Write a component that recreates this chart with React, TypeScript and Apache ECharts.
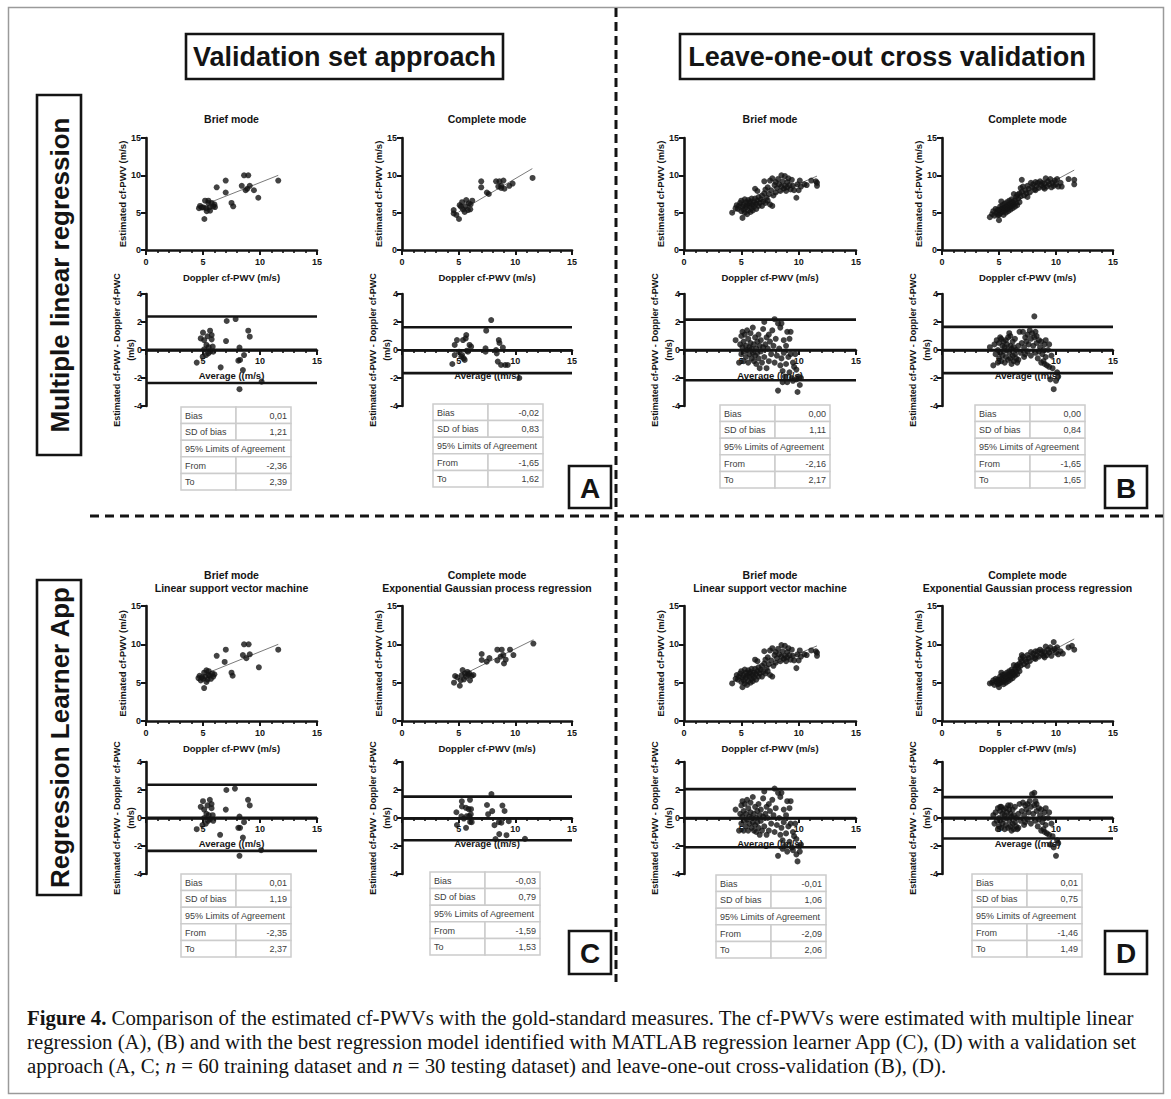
import React, { useEffect, useRef } from 'react';
import * as echarts from 'echarts';

const W = 1171;
const H = 1099;
const FONT = "'Liberation Sans', Arial, Helvetica, sans-serif";
const SERIF = "'Liberation Serif', 'Times New Roman', serif";
const INK = '#141414';

// ---------- tick labels / titles ----------
const scatterTicks = [0, 5, 10, 15];
const baTicks = [-4, -2, 0, 2, 4];
const tableLabels = ['Bias', 'SD of bias', '95% Limits of Agreement', 'From', 'To'];

// ---------- A : multiple linear regression, validation set ----------
const scAL = [[5.12,4.15],[4.65,5.6],[4.74,5.9],[5.18,6.6],[5.27,5.6],[5.47,6.6],[5.56,5.7],[5.62,5.27],[5.76,6.3],[5.9,5.85],[6.0,6.1],[6.05,5.75],[5.03,5.7],[6.2,8.4],[6.99,9.3],[6.99,7.7],[7.5,6.3],[7.65,5.85],[8.4,8.6],[8.6,10.0],[8.97,10.0],[8.74,8.0],[8.88,8.2],[9.1,8.6],[9.47,8.0],[9.85,7.0],[11.6,9.3],[5.33,5.2],[4.89,5.7],[5.47,6.3]];
const regAL = [[5.5,6.3],[11.6,10.0]];
const baAL = [[4.45,-0.9],[4.8,0.83],[5.0,1.24],[5.1,0.7],[5.3,0.36],[5.1,0.05],[5.26,-0.36],[5.47,-0.24],[5.62,1.38],[5.76,1.07],[5.76,0.76],[5.62,-0.12],[5.85,0.24],[5.9,-0.12],[6.55,-1.24],[7.02,0.64],[7.08,2.07],[7.86,2.21],[8.1,-0.76],[8.2,0.17],[8.25,-0.71],[8.2,-2.8],[8.5,-1.43],[8.6,-0.36],[8.97,1.38],[9.1,0.95],[10.14,-2.26],[4.97,-0.48],[5.4,0.98],[5.5,0.2]];
const stAL = ['0,01', '1,21', '-2,36', '2,39'];

const scAR = [[4.56,5.35],[4.56,4.9],[4.8,4.7],[5.03,4.15],[5.09,6.0],[5.3,6.4],[5.38,5.45],[5.53,5.1],[5.6,5.85],[5.82,5.35],[5.9,6.25],[6.02,5.45],[6.05,6.1],[6.2,6.6],[5.67,6.7],[6.99,9.2],[6.99,8.4],[7.49,7.7],[7.66,7.5],[8.3,9.2],[8.6,9.2],[8.5,8.5],[8.75,8.6],[8.95,9.3],[9.04,8.2],[8.75,8.3],[9.47,8.6],[9.76,8.9],[11.52,9.65],[5.2,5.8]];
const regAR = [[5.0,5.1],[11.5,10.9]];
const baAR = [[4.44,-1.0],[4.65,0.36],[4.65,-0.36],[4.85,0.71],[5.03,-0.12],[5.23,-0.48],[5.38,0.71],[5.44,-0.6],[5.53,-0.71],[5.62,0.83],[5.67,1.07],[5.73,-0.05],[5.82,-0.12],[5.96,0.36],[6.1,0.24],[7.37,0.12],[7.37,-0.12],[7.43,1.38],[7.87,2.14],[8.3,0.0],[8.36,-0.24],[8.54,0.71],[8.6,0.5],[8.45,-0.83],[8.74,-1.07],[8.9,0.17],[9.1,-1.07],[9.33,-1.07],[10.35,-2.0],[5.3,-0.36]];
const stAR = ['-0,02', '0,83', '-1,65', '1,62'];

// ---------- B : multiple linear regression, LOOCV ----------
const scBL = [[4.2,5.0],[4.5,5.6],[4.6,6.0],[4.7,5.5],[4.8,5.9],[4.9,6.3],[5.0,5.2],[5.0,6.6],[5.1,4.3],[5.1,5.8],[5.2,6.1],[5.2,5.4],[5.3,6.8],[5.3,5.0],[5.4,5.7],[5.4,6.4],[5.5,4.8],[5.5,6.0],[5.6,5.3],[5.6,6.7],[5.7,5.9],[5.7,6.3],[5.8,5.1],[5.8,6.5],[5.9,5.6],[5.9,6.9],[6.0,6.1],[6.0,5.3],[6.1,6.4],[6.1,5.8],[6.2,6.9],[6.2,8.2],[6.3,5.5],[6.3,6.2],[6.4,7.9],[6.4,6.6],[6.5,5.9],[6.5,7.1],[6.6,6.3],[6.7,6.8],[6.8,5.9],[6.8,7.3],[6.9,6.5],[7.0,9.2],[7.0,7.6],[7.1,6.3],[7.1,8.1],[7.2,7.0],[7.3,8.4],[7.3,6.6],[7.4,7.5],[7.5,9.3],[7.5,6.1],[7.6,8.0],[7.7,9.6],[7.7,5.9],[7.8,7.3],[7.9,8.7],[8.0,9.1],[8.0,7.7],[8.1,8.3],[8.2,9.5],[8.3,8.8],[8.4,7.9],[8.5,10.0],[8.5,8.5],[8.6,9.2],[8.7,8.2],[8.8,9.9],[8.8,8.6],[8.9,7.9],[9.0,9.1],[9.0,8.4],[9.1,9.6],[9.2,8.7],[9.3,8.1],[9.4,9.4],[9.5,8.6],[9.6,8.0],[9.8,7.0],[9.9,8.8],[10.0,8.0],[10.1,9.3],[10.2,8.5],[10.5,8.8],[10.7,8.7],[11.1,9.3],[11.5,9.2],[11.6,8.6],[11.6,9.0]];
const regBL = [[4.2,5.0],[11.6,9.9]];
const baBL = [[4.5,0.7],[4.8,-0.9],[4.9,0.4],[5.0,1.0],[5.0,-0.3],[5.1,0.2],[5.1,1.3],[5.2,-0.8],[5.2,0.6],[5.3,-0.1],[5.3,1.1],[5.4,0.3],[5.4,-0.5],[5.5,1.4],[5.5,0.0],[5.6,-0.9],[5.6,0.8],[5.7,0.2],[5.7,-0.3],[5.8,1.2],[5.8,0.5],[5.9,-0.6],[5.9,0.1],[6.0,1.6],[6.0,-0.2],[6.1,0.4],[6.1,-0.8],[6.2,0.9],[6.2,-0.4],[6.3,0.1],[6.3,-1.0],[6.4,0.6],[6.4,-0.2],[6.5,1.1],[6.5,-0.6],[6.6,0.3],[6.6,-1.3],[6.7,-0.1],[6.7,0.7],[6.8,-0.9],[6.9,0.2],[6.9,1.5],[7.0,-0.5],[7.0,2.0],[7.1,0.4],[7.2,-1.3],[7.2,0.9],[7.3,0.1],[7.4,1.1],[7.4,-0.8],[7.5,0.6],[7.6,-0.3],[7.7,1.4],[7.8,0.3],[7.9,2.2],[7.9,-0.9],[8.0,0.8],[8.1,-0.4],[8.2,-2.9],[8.2,1.9],[8.3,0.1],[8.4,-1.1],[8.4,1.6],[8.5,-0.6],[8.5,1.9],[8.6,-1.5],[8.7,0.7],[8.7,-0.2],[8.8,-1.9],[8.9,-1.0],[8.9,0.3],[9.0,1.3],[9.0,-2.3],[9.1,-0.5],[9.2,0.8],[9.2,-1.6],[9.3,1.3],[9.3,-0.3],[9.4,-2.0],[9.5,-0.9],[9.6,-1.2],[9.7,-0.3],[9.8,-2.1],[9.9,-3.0],[10.0,-1.9],[10.1,-2.5],[10.2,-2.0],[9.5,-2.2],[8.6,-2.3],[9.8,-1.4]];
const stBL = ['0,00', '1,11', '-2,16', '2,17'];

const scBR = [[4.2,4.4],[4.4,4.8],[4.5,5.2],[4.6,4.6],[4.7,5.5],[4.8,5.0],[4.9,4.7],[5.0,5.3],[5.0,4.0],[5.1,5.8],[5.1,4.9],[5.2,5.5],[5.2,6.5],[5.3,5.1],[5.3,6.0],[5.4,4.7],[5.4,5.6],[5.5,5.3],[5.5,6.2],[5.6,5.0],[5.6,5.8],[5.7,5.5],[5.7,6.4],[5.8,5.2],[5.8,6.0],[5.9,5.7],[5.9,6.6],[6.0,5.4],[6.0,6.2],[6.1,5.9],[6.1,6.8],[6.2,5.6],[6.2,6.4],[6.3,7.5],[6.3,6.1],[6.4,6.7],[6.4,5.8],[6.5,6.3],[6.5,7.1],[6.6,6.0],[6.7,6.9],[6.8,7.6],[6.8,6.4],[6.9,8.3],[6.9,7.2],[7.0,9.4],[7.0,7.8],[7.1,8.5],[7.2,7.3],[7.3,8.0],[7.4,7.6],[7.5,8.6],[7.6,8.2],[7.7,7.7],[7.8,9.0],[7.9,8.4],[8.0,8.8],[8.1,8.1],[8.2,9.1],[8.3,8.6],[8.4,9.0],[8.5,8.3],[8.6,9.2],[8.7,8.7],[8.8,9.0],[8.9,8.4],[9.0,8.9],[9.1,9.6],[9.2,8.5],[9.3,9.2],[9.4,8.8],[9.5,9.5],[9.6,8.4],[9.7,9.0],[9.8,8.6],[9.9,9.3],[10.0,8.8],[10.1,9.5],[10.2,8.5],[10.4,9.0],[10.5,8.5],[11.1,9.5],[11.6,9.4],[11.6,8.8],[7.5,7.1],[6.6,7.4],[8.2,8.0],[9.0,8.2],[5.0,4.7],[4.9,5.4]];
const regBR = [[4.2,4.6],[11.6,10.7]];
const baBR = [[4.2,0.2],[4.5,-1.1],[4.6,0.4],[4.7,-0.3],[4.8,0.7],[4.9,0.0],[5.0,-0.6],[5.0,0.5],[5.1,-0.2],[5.2,0.8],[5.2,-0.8],[5.3,0.3],[5.3,-0.4],[5.4,0.6],[5.4,-0.1],[5.5,-0.9],[5.5,0.2],[5.6,0.7],[5.6,-0.5],[5.7,0.0],[5.7,0.4],[5.8,-0.7],[5.8,0.9],[5.9,-0.2],[5.9,1.2],[6.0,0.3],[6.0,-0.6],[6.1,-1.0],[6.1,0.1],[6.2,0.6],[6.2,-0.4],[6.3,-0.8],[6.3,0.2],[6.4,-0.3],[6.4,0.8],[6.5,-0.6],[6.5,0.0],[6.6,-0.9],[6.7,0.3],[6.8,1.3],[6.9,-0.2],[7.0,0.5],[7.1,1.3],[7.2,0.2],[7.3,0.9],[7.3,-0.3],[7.4,0.6],[7.5,1.1],[7.5,-0.1],[7.6,0.4],[7.7,1.4],[7.8,0.8],[7.8,-0.4],[7.9,1.2],[8.0,0.3],[8.1,2.4],[8.1,0.9],[8.2,-0.2],[8.3,1.0],[8.3,0.5],[8.4,-0.6],[8.5,0.7],[8.5,-0.1],[8.6,0.2],[8.7,-0.9],[8.7,0.6],[8.8,-0.3],[8.9,0.0],[9.0,-1.0],[9.0,0.4],[9.1,-0.5],[9.2,-1.1],[9.3,0.0],[9.4,-1.2],[9.5,-2.1],[9.6,-0.4],[9.7,-1.3],[9.8,-2.8],[10.0,-2.2],[10.1,-1.6],[9.4,0.4],[8.9,-0.8],[7.2,-0.5],[6.7,-0.7],[6.0,1.0],[5.1,0.9],[4.9,-0.9],[8.2,1.3],[9.1,0.7],[10.2,-1.9]];
const stBR = ['0,00', '0,84', '-1,65', '1,65'];

// ---------- C : regression learner, validation set ----------
const scCL = [[5.1,4.3],[4.6,5.6],[4.7,5.9],[4.9,5.7],[5.0,5.5],[5.1,6.3],[5.2,5.8],[5.3,6.6],[5.4,5.4],[5.5,6.0],[5.5,6.5],[5.6,5.9],[5.7,5.5],[5.8,6.2],[5.9,5.8],[6.0,6.1],[4.8,5.3],[5.3,5.1],[6.2,8.5],[7.0,9.3],[6.9,7.7],[7.5,6.3],[7.6,5.9],[8.5,8.6],[8.6,10.0],[9.0,10.0],[8.8,8.2],[9.1,8.7],[9.9,7.0],[11.6,9.3]];
const regCL = [[5.3,6.2],[11.6,10.0]];
const baCL = [[4.45,-0.8],[4.8,0.8],[5.0,1.2],[5.1,0.6],[5.3,0.3],[5.1,0.0],[5.25,-0.4],[5.45,-0.2],[5.6,1.3],[5.75,1.0],[5.75,0.7],[5.6,-0.1],[5.85,0.2],[5.9,-0.2],[6.5,-1.2],[7.0,0.6],[7.05,2.0],[7.8,2.1],[8.1,-0.7],[8.2,0.1],[8.25,-0.7],[8.2,-2.7],[8.5,-1.4],[8.6,-0.3],[8.95,1.3],[9.1,0.9],[10.1,-2.3],[4.95,-0.5],[5.4,0.9],[5.5,0.2]];
const stCL = ['0,01', '1,19', '-2,35', '2,37'];

const scCR = [[4.59,5.0],[4.68,5.87],[4.88,5.7],[5.1,4.6],[5.18,5.3],[5.27,6.0],[5.35,6.65],[5.47,5.43],[5.56,6.2],[5.65,5.78],[5.77,6.4],[5.86,6.0],[6.0,5.3],[5.94,6.2],[6.15,5.87],[6.3,6.0],[7.03,8.74],[7.03,7.96],[7.47,7.74],[7.71,8.2],[8.41,9.3],[8.8,9.3],[8.41,7.9],[8.7,8.4],[8.94,8.6],[9.0,7.5],[9.15,8.0],[9.53,9.3],[9.83,8.6],[11.59,10.1]];
const regCR = [[5.6,6.2],[11.6,10.6]];
const baCR = [[4.8,0.41],[5.28,1.19],[5.29,0.82],[4.85,-0.5],[5.24,0.12],[5.64,0.73],[6.0,1.3],[5.45,-0.04],[5.88,0.64],[5.72,0.13],[6.09,0.63],[5.93,0.14],[5.65,-0.7],[6.07,0.26],[6.01,-0.28],[6.15,-0.3],[7.89,1.71],[7.5,0.93],[7.6,0.27],[7.96,0.49],[8.86,0.89],[9.05,0.5],[8.16,-0.51],[8.55,-0.3],[8.77,-0.34],[8.25,-1.5],[8.58,-1.15],[9.42,-0.23],[9.22,-1.23],[10.85,-1.49]];
const stCR = ['-0,03', '0,79', '-1,59', '1,53'];

// ---------- D : regression learner, LOOCV ----------
const scDL = [[4.2,4.9],[4.5,5.5],[4.6,6.0],[4.7,5.4],[4.8,5.8],[4.9,6.2],[5.0,5.1],[5.0,6.5],[5.1,4.4],[5.1,5.7],[5.2,6.0],[5.2,5.3],[5.3,6.7],[5.3,4.9],[5.4,5.6],[5.4,6.3],[5.5,4.7],[5.5,5.9],[5.6,5.2],[5.6,6.6],[5.7,5.8],[5.7,6.2],[5.8,5.0],[5.8,6.4],[5.9,5.5],[5.9,6.8],[6.0,6.0],[6.0,5.2],[6.1,6.3],[6.1,5.7],[6.2,6.8],[6.2,8.0],[6.3,5.4],[6.3,6.1],[6.4,7.8],[6.4,6.5],[6.5,5.8],[6.5,7.0],[6.6,6.2],[6.7,6.7],[6.8,5.8],[6.8,7.2],[6.9,6.4],[7.0,9.1],[7.0,7.5],[7.1,6.2],[7.1,8.0],[7.2,6.9],[7.3,8.3],[7.3,6.5],[7.4,7.4],[7.5,9.2],[7.5,6.0],[7.6,7.9],[7.7,9.5],[7.7,5.8],[7.8,7.2],[7.9,8.6],[8.0,9.0],[8.0,7.6],[8.1,8.2],[8.2,9.4],[8.3,8.7],[8.4,7.8],[8.5,9.9],[8.5,8.4],[8.6,9.1],[8.7,8.1],[8.8,9.8],[8.8,8.5],[8.9,7.8],[9.0,9.0],[9.0,8.3],[9.1,9.5],[9.2,8.6],[9.3,8.0],[9.4,9.3],[9.5,8.5],[9.6,7.9],[9.8,6.9],[9.9,8.7],[10.0,7.9],[10.1,9.2],[10.2,8.4],[10.5,8.7],[10.7,8.6],[11.1,9.2],[11.5,9.1],[11.6,8.5],[11.6,8.9]];
const regDL = [[4.2,5.1],[11.6,9.8]];
const baDL = [[4.5,0.6],[4.8,-0.9],[4.9,0.3],[5.0,0.9],[5.0,-0.4],[5.1,0.1],[5.1,1.2],[5.2,-0.9],[5.2,0.5],[5.3,-0.2],[5.3,1.0],[5.4,0.3],[5.4,-0.6],[5.5,1.3],[5.5,-0.1],[5.6,-0.9],[5.6,0.7],[5.7,0.1],[5.7,-0.4],[5.8,1.1],[5.8,0.4],[5.9,-0.7],[5.9,0.0],[6.0,1.5],[6.0,-0.3],[6.1,0.3],[6.1,-0.9],[6.2,0.8],[6.2,-0.5],[6.3,0.0],[6.3,-1.0],[6.4,0.5],[6.4,-0.3],[6.5,1.0],[6.5,-0.7],[6.6,0.2],[6.6,-1.2],[6.7,-0.2],[6.7,0.6],[6.8,-0.9],[6.9,0.1],[6.9,1.4],[7.0,-0.6],[7.0,1.9],[7.1,0.3],[7.2,-1.2],[7.2,0.8],[7.3,0.0],[7.4,1.0],[7.4,-0.9],[7.5,0.5],[7.6,-0.4],[7.7,1.3],[7.8,0.2],[7.9,2.1],[7.9,-1.0],[8.0,0.7],[8.1,-0.5],[8.2,-2.7],[8.2,1.8],[8.3,0.0],[8.4,-1.2],[8.4,1.5],[8.5,-0.7],[8.5,1.8],[8.6,-1.6],[8.7,0.6],[8.7,-0.3],[8.8,-2.0],[8.9,-1.1],[8.9,0.2],[9.0,1.2],[9.0,-2.4],[9.1,-0.6],[9.2,0.7],[9.2,-1.7],[9.3,1.2],[9.3,-0.4],[9.4,-2.1],[9.5,-1.0],[9.6,-1.3],[9.7,-0.4],[9.8,-2.6],[9.9,-3.1],[10.0,-2.0],[10.1,-2.4],[10.2,-1.9],[9.5,-2.3],[8.6,-2.2],[9.8,-1.5]];
const stDL = ['-0,01', '1,06', '-2,09', '2,06'];

const scDR = [[4.2,4.9],[4.4,5.0],[4.5,5.3],[4.6,4.7],[4.7,5.5],[4.8,5.1],[4.9,4.8],[5.0,5.3],[5.0,4.4],[5.1,5.8],[5.1,5.0],[5.2,5.5],[5.2,6.3],[5.3,5.1],[5.3,6.0],[5.4,4.8],[5.4,5.6],[5.5,5.3],[5.5,6.1],[5.6,5.0],[5.6,5.8],[5.7,5.5],[5.7,6.3],[5.8,5.2],[5.8,6.0],[5.9,5.7],[5.9,6.5],[6.0,5.4],[6.0,6.2],[6.1,5.9],[6.1,6.7],[6.2,5.6],[6.2,6.4],[6.3,7.3],[6.3,6.1],[6.4,6.7],[6.4,5.9],[6.5,6.4],[6.5,7.1],[6.6,6.1],[6.7,6.9],[6.8,7.5],[6.8,6.5],[6.9,8.1],[6.9,7.2],[7.0,8.6],[7.0,7.8],[7.1,8.4],[7.2,7.4],[7.3,8.0],[7.4,7.7],[7.5,8.6],[7.6,8.2],[7.7,7.8],[7.8,9.0],[7.9,8.4],[8.0,8.8],[8.1,8.2],[8.2,9.1],[8.3,8.6],[8.4,9.1],[8.5,8.4],[8.6,9.3],[8.7,8.8],[8.8,9.1],[8.9,8.5],[9.0,9.0],[9.1,9.7],[9.2,8.6],[9.3,9.3],[9.4,8.9],[9.5,9.6],[9.6,8.5],[9.7,9.2],[9.8,10.3],[9.9,9.4],[10.0,8.9],[10.1,9.6],[10.2,8.7],[10.4,9.1],[10.6,8.8],[11.1,9.6],[11.4,9.8],[11.6,9.3],[7.5,7.2],[6.6,7.3],[8.2,8.1],[9.0,8.3],[5.0,4.9],[4.9,5.4]];
const regDR = [[4.2,4.8],[11.6,10.7]];
const baDR = [[4.5,0.2],[4.6,-0.4],[4.7,0.4],[4.8,-0.2],[4.9,0.7],[5.0,0.0],[5.0,-0.6],[5.1,0.5],[5.1,-0.2],[5.2,0.8],[5.2,-0.7],[5.3,0.3],[5.3,-0.4],[5.4,0.6],[5.4,-0.1],[5.5,-0.8],[5.5,0.2],[5.6,0.7],[5.6,-0.5],[5.7,0.0],[5.7,0.4],[5.8,-0.7],[5.8,0.9],[5.9,-0.2],[5.9,0.6],[6.0,0.3],[6.0,-0.6],[6.1,-0.9],[6.1,0.1],[6.2,0.6],[6.2,-0.4],[6.3,-0.8],[6.3,0.2],[6.4,-0.3],[6.4,0.8],[6.5,-0.6],[6.5,0.0],[6.6,-0.8],[6.7,0.3],[6.8,1.0],[6.9,-0.2],[7.0,0.5],[7.1,1.1],[7.2,0.2],[7.3,0.9],[7.3,-0.3],[7.4,0.6],[7.5,1.0],[7.5,-0.1],[7.6,0.4],[7.7,1.2],[7.8,0.8],[7.8,-0.4],[7.9,1.7],[8.0,0.3],[8.1,1.8],[8.1,0.9],[8.2,-0.2],[8.3,1.0],[8.3,0.5],[8.4,-0.6],[8.5,0.7],[8.5,-0.1],[8.6,0.2],[8.7,-0.9],[8.7,0.6],[8.8,-0.3],[8.9,0.0],[9.0,-1.0],[9.0,0.4],[9.1,-0.5],[9.2,-1.1],[9.3,0.0],[9.4,-1.2],[9.5,-1.9],[9.6,-0.4],[9.7,-1.3],[9.8,-2.1],[10.0,-2.7],[10.1,-1.6],[9.4,0.4],[8.9,-0.8],[7.2,-0.5],[6.7,-0.7],[6.0,0.9],[5.1,0.8],[4.9,-0.8],[8.2,1.2],[9.1,0.7],[10.2,-1.8]];
const stDR = ['0,01', '0,75', '-1,46', '1,49'];

// ---------- layout ----------
const ROWS = [
  { scTop: 138, scH: 112, baTop: 294, baH: 112, titleY: [119] },
  { scTop: 606, scH: 115, baTop: 762, baH: 112, titleY: [575, 588] },
];
const PANELS = [
  { gx: 146, gw: 171, row: 0, title: ['Brief mode'], sc: scAL, reg: regAL, ba: baAL, st: stAL, tb: [181, 407] },
  { gx: 402, gw: 170, row: 0, title: ['Complete mode'], sc: scAR, reg: regAR, ba: baAR, st: stAR, tb: [433, 404] },
  { gx: 684, gw: 172, row: 0, title: ['Brief mode'], sc: scBL, reg: regBL, ba: baBL, st: stBL, tb: [720, 405] },
  { gx: 942, gw: 171, row: 0, title: ['Complete mode'], sc: scBR, reg: regBR, ba: baBR, st: stBR, tb: [975, 405] },
  { gx: 146, gw: 171, row: 1, title: ['Brief mode', 'Linear support vector machine'], sc: scCL, reg: regCL, ba: baCL, st: stCL, tb: [181, 874] },
  { gx: 402, gw: 170, row: 1, title: ['Complete mode', 'Exponential Gaussian process regression'], sc: scCR, reg: regCR, ba: baCR, st: stCR, tb: [430, 872] },
  { gx: 684, gw: 172, row: 1, title: ['Brief mode', 'Linear support vector machine'], sc: scDL, reg: regDL, ba: baDL, st: stDL, tb: [716, 875] },
  { gx: 942, gw: 171, row: 1, title: ['Complete mode', 'Exponential Gaussian process regression'], sc: scDR, reg: regDR, ba: baDR, st: stDR, tb: [972, 874] },
];

const num = (s: string) => parseFloat(s.replace(',', '.'));

function txt(x: number, y: number, text: string, font: string, align = 'left', vAlign = 'middle', fill = INK, extra: any = {}) {
  return {
    type: 'text', x, y, silent: true, ...extra,
    style: { text, font, fill, align, verticalAlign: vAlign, textAlign: align, textVerticalAlign: vAlign },
  };
}

function axisBits() {
  return {
    axisLine: { show: true, onZero: false, lineStyle: { color: INK, width: 2.6 } },
    axisTick: { show: true, length: 5, lineStyle: { color: INK, width: 2 } },
    axisLabel: { color: INK, fontSize: 9, fontWeight: 'bold', fontFamily: FONT },
    splitLine: { show: false },
    nameTextStyle: { color: INK, fontSize: 9.5, fontWeight: 'bold', fontFamily: FONT },
  };
}

function buildTable(x: number, y: number, st: string[]) {
  const w = 110, cw = 55, rh = 16.6;
  const border = '#cccccc';
  const tcol = '#3c3c3c';
  const els: any[] = [];
  const vals = [st[0], st[1], '', st[2], st[3]];
  tableLabels.forEach((lab, r) => {
    const ry = y + r * rh;
    if (r === 2) {
      els.push({ type: 'rect', silent: true, shape: { x, y: ry, width: w, height: rh }, style: { fill: '#fff', stroke: border, lineWidth: 1.5 } });
    } else {
      els.push({ type: 'rect', silent: true, shape: { x, y: ry, width: cw, height: rh }, style: { fill: '#fff', stroke: border, lineWidth: 1.5 } });
      els.push({ type: 'rect', silent: true, shape: { x: x + cw, y: ry, width: w - cw, height: rh }, style: { fill: '#fff', stroke: border, lineWidth: 1.5 } });
      els.push(txt(x + w - 4, ry + rh / 2 + 0.5, vals[r], `9px ${FONT}`, 'right', 'middle', tcol));
    }
    els.push(txt(x + 4, ry + rh / 2 + 0.5, lab, `9px ${FONT}`, 'left', 'middle', tcol));
  });
  return els;
}

function letterBox(x: number, y: number, w: number, h: number, letter: string) {
  return [
    { type: 'rect', silent: true, shape: { x, y, width: w, height: h }, style: { fill: '#fff', stroke: INK, lineWidth: 2.6 } },
    txt(x + w / 2, y + h / 2 + 1, letter, `bold 28px ${FONT}`, 'center', 'middle'),
  ];
}

function buildOption() {
  const grid: any[] = [];
  const xAxis: any[] = [];
  const yAxis: any[] = [];
  const series: any[] = [];
  const graphic: any[] = [];

  // page frame
  graphic.push({ type: 'rect', silent: true, shape: { x: 8.5, y: 7.5, width: 1155, height: 1086 }, style: { fill: 'none', stroke: '#9a9a9a', lineWidth: 1.5 } });

  const minor = { show: true, splitNumber: 5, length: 3, lineStyle: { color: INK, width: 1.6 } };

  PANELS.forEach((p, i) => {
    const r = ROWS[p.row];
    const gi = 3 * i;      // scatter grid
    const bi = 3 * i + 1;  // Bland-Altman data grid
    const ai = 3 * i + 2;  // Bland-Altman x-axis (drawn at y = 0)
    grid.push({ left: p.gx, top: r.scTop, width: p.gw, height: r.scH });
    grid.push({ left: p.gx, top: r.baTop, width: p.gw, height: r.baH });
    grid.push({ left: p.gx, top: r.baTop, width: p.gw, height: r.baH / 2 });

    // scatter axes
    xAxis.push({
      gridIndex: gi, type: 'value', min: scatterTicks[0], max: scatterTicks[3], interval: 5,
      ...axisBits(), minorTick: minor,
      axisLabel: { ...axisBits().axisLabel, margin: 7 },
      name: 'Doppler cf-PWV (m/s)', nameLocation: 'middle', nameGap: 22,
    });
    yAxis.push({
      gridIndex: gi, type: 'value', min: scatterTicks[0], max: scatterTicks[3], interval: 5,
      ...axisBits(),
      axisLabel: { ...axisBits().axisLabel, margin: 5 },
      name: 'Estimated cf-PWV (m/s)', nameLocation: 'middle', nameGap: 18,
    });
    // BA data axes
    xAxis.push({ gridIndex: bi, type: 'value', min: 0, max: 15, show: false });
    yAxis.push({
      gridIndex: bi, type: 'value', min: baTicks[0], max: baTicks[4], interval: 2,
      ...axisBits(),
      axisLabel: { ...axisBits().axisLabel, margin: 4 },
    });
    // BA x axis along zero
    xAxis.push({
      gridIndex: ai, type: 'value', min: 0, max: 15, interval: 5,
      ...axisBits(), minorTick: minor,
      axisLabel: { ...axisBits().axisLabel, margin: 6, formatter: (v: number) => (v === 0 ? '' : String(v)) },
      name: 'Average ((m/s)', nameLocation: 'middle', nameGap: 20,
    });
    yAxis.push({ gridIndex: ai, type: 'value', min: 0, max: 4, show: false });

    series.push({ type: 'line', xAxisIndex: gi, yAxisIndex: gi, data: p.reg, symbol: 'none', silent: true, lineStyle: { color: '#7a7a7a', width: 1 }, z: 3 });
    series.push({ type: 'scatter', xAxisIndex: gi, yAxisIndex: gi, data: p.sc, symbolSize: 6, itemStyle: { color: INK }, z: 4 });
    series.push({ type: 'scatter', xAxisIndex: bi, yAxisIndex: bi, data: p.ba, symbolSize: 6, itemStyle: { color: INK }, z: 4 });
    [p.st[3], p.st[0], p.st[2]].forEach((v) => {
      const y = num(v);
      series.push({ type: 'line', xAxisIndex: bi, yAxisIndex: bi, data: [[0, y], [15, y]], symbol: 'none', silent: true, lineStyle: { color: INK, width: 2.6 }, z: 3 });
    });

    // BA y-axis name (two rotated lines)
    const zeroY = r.baTop + r.baH / 2;
    graphic.push(txt(p.gx - 29, zeroY, 'Estimated cf-PWV - Doppler cf-PWC', `bold 9px ${FONT}`, 'center', 'middle', INK, { rotation: Math.PI / 2 }));
    graphic.push(txt(p.gx - 15, zeroY, '(m/s)', `bold 9px ${FONT}`, 'center', 'middle', INK, { rotation: Math.PI / 2 }));

    p.title.forEach((t, k) => {
      graphic.push(txt(p.gx + p.gw / 2, r.titleY[k], t, `bold 10.5px ${FONT}`, 'center', 'middle'));
    });
    graphic.push(...buildTable(p.tb[0], p.tb[1], p.st));
  });

  // column headers
  graphic.push({ type: 'rect', silent: true, shape: { x: 186, y: 34, width: 317, height: 45 }, style: { fill: '#fff', stroke: INK, lineWidth: 2.6 } });
  graphic.push(txt(344.5, 57, 'Validation set approach', `bold 27px ${FONT}`, 'center', 'middle'));
  graphic.push({ type: 'rect', silent: true, shape: { x: 680, y: 34, width: 414, height: 45 }, style: { fill: '#fff', stroke: INK, lineWidth: 2.6 } });
  graphic.push(txt(887, 57, 'Leave-one-out cross validation', `bold 27px ${FONT}`, 'center', 'middle'));

  // row headers (rotated)
  graphic.push({ type: 'rect', silent: true, shape: { x: 37, y: 95, width: 44, height: 360 }, style: { fill: '#fff', stroke: INK, lineWidth: 2.6 } });
  graphic.push(txt(60, 275, 'Multiple linear regression', `bold 26px ${FONT}`, 'center', 'middle', INK, { rotation: Math.PI / 2 }));
  graphic.push({ type: 'rect', silent: true, shape: { x: 37, y: 580, width: 44, height: 315 }, style: { fill: '#fff', stroke: INK, lineWidth: 2.6 } });
  graphic.push(txt(60, 737.5, 'Regression Learner App', `bold 26px ${FONT}`, 'center', 'middle', INK, { rotation: Math.PI / 2 }));

  // dashed separators
  graphic.push({ type: 'line', silent: true, shape: { x1: 616, y1: 8, x2: 616, y2: 982 }, style: { stroke: INK, lineWidth: 3, lineDash: [9, 5] } });
  graphic.push({ type: 'line', silent: true, shape: { x1: 90, y1: 516, x2: 1163, y2: 516 }, style: { stroke: INK, lineWidth: 3, lineDash: [9, 6] } });

  // panel letters
  graphic.push(...letterBox(569, 466, 42, 42, 'A'));
  graphic.push(...letterBox(1105, 466, 42, 42, 'B'));
  graphic.push(...letterBox(569, 931, 42, 43, 'C'));
  graphic.push(...letterBox(1105, 931, 42, 43, 'D'));

  // caption
  const CAP = 20.8;
  const capRich = {
    b: { fontFamily: SERIF, fontSize: CAP, fontWeight: 'bold', fill: INK },
    i: { fontFamily: SERIF, fontSize: CAP, fontStyle: 'italic', fill: INK },
  };
  const capLines = [
    '{b|Figure 4.} Comparison of the estimated cf-PWVs with the gold-standard measures. The cf-PWVs were estimated with multiple linear',
    'regression (A), (B) and with the best regression model identified with MATLAB regression learner App (C), (D) with a validation set',
    'approach (A, C; {i|n} = 60 training dataset and {i|n} = 30 testing dataset) and leave-one-out cross-validation (B), (D).',
  ];
  capLines.forEach((line, k) => {
    graphic.push({
      type: 'text', silent: true, x: 27, y: 1017 + k * 24,
      style: { text: line, fontFamily: SERIF, fontSize: CAP, fill: INK, align: 'left', verticalAlign: 'middle', textAlign: 'left', textVerticalAlign: 'middle', rich: capRich },
    });
  });

  return {
    animation: false,
    backgroundColor: '#ffffff',
    grid, xAxis, yAxis, series, graphic,
  };
}

export default function App() {
  const ref = useRef<HTMLDivElement>(null);
  useEffect(() => {
    document.body.style.margin = '0';
    const chart = echarts.init(ref.current!, null, { renderer: 'svg' });
    chart.setOption(buildOption() as any);
    return () => chart.dispose();
  }, []);
  return <div ref={ref} style={{ width: W, height: H, background: '#fff' }} />;
}
